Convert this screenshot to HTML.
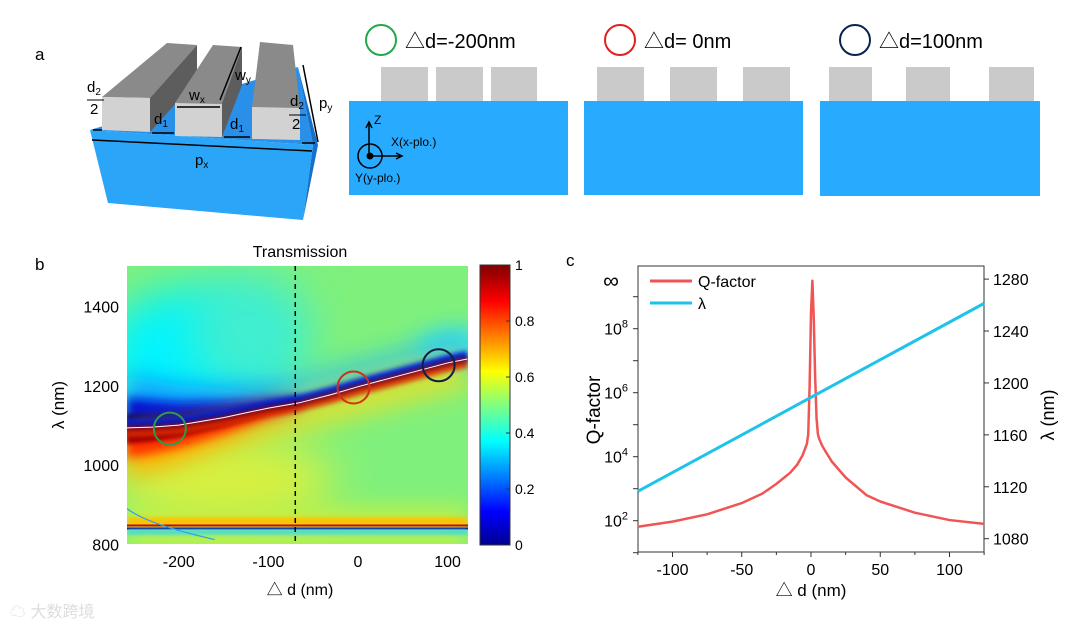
<!DOCTYPE html>
<html><head><meta charset="utf-8"><style>
body{margin:0;background:#fff;width:1080px;height:630px;overflow:hidden;font-family:"Liberation Sans","Noto Sans CJK SC",sans-serif}
svg{position:absolute;left:0;top:0}
text{font-family:"Liberation Sans","Noto Sans CJK SC",sans-serif}
</style></head><body>
<svg id="s" width="1080" height="630" viewBox="0 0 1080 630">
<defs>
 <linearGradient id="jet" x1="0" y1="1" x2="0" y2="0">
  <stop offset="0" stop-color="#00008f"/><stop offset="0.12" stop-color="#0000ff"/><stop offset="0.37" stop-color="#00ffff"/>
  <stop offset="0.5" stop-color="#80ff80"/><stop offset="0.62" stop-color="#ffff00"/><stop offset="0.87" stop-color="#ff0000"/><stop offset="1" stop-color="#800000"/>
 </linearGradient>
 <filter id="b6" filterUnits="userSpaceOnUse" x="0" y="0" width="1080" height="630"><feGaussianBlur stdDeviation="5"/></filter>
 <filter id="b12" filterUnits="userSpaceOnUse" x="0" y="0" width="1080" height="630"><feGaussianBlur stdDeviation="12"/></filter>
 <filter id="b20" filterUnits="userSpaceOnUse" x="0" y="0" width="1080" height="630"><feGaussianBlur stdDeviation="22"/></filter>
 <filter id="b3" filterUnits="userSpaceOnUse" x="0" y="0" width="1080" height="630"><feGaussianBlur stdDeviation="2"/></filter>
 <clipPath id="hclip"><rect x="127" y="266" width="341" height="278"/></clipPath>
</defs>

<!-- Panel a -->
<g>
<text x="35" y="60" font-size="17">a</text>
<g>
 <polygon points="90,130 298,67 313,145" fill="#2a8fe8"/>
 <polygon points="298,67 318,145 303,220 313,145" fill="#1670c8"/>
 <polygon points="90,130 313,145 303,220 108,203" fill="#2aa5f8"/>
 <polygon points="102,97 167,43 197,45 150,98" fill="#8a8a8a"/>
 <polygon points="150,98 197,45 197,80 150,132" fill="#5d5d5d"/>
 <polygon points="102,97 150,98 150,132 102,130" fill="#d2d2d2"/>
 <polygon points="175,103 213,45 242,47 222,104" fill="#8a8a8a"/>
 <polygon points="222,104 242,47 242,85 222,137" fill="#5d5d5d"/>
 <polygon points="175,103 222,104 222,137 175,136" fill="#d2d2d2"/>
 <polygon points="252,107 260,42 293,45 300,108" fill="#8a8a8a"/>
 <polygon points="252,107 300,108 300,140 252,139" fill="#d2d2d2"/>
 <g stroke="#000" stroke-width="1.5">
  <line x1="92" y1="140" x2="312" y2="151"/><line x1="93" y1="130" x2="102" y2="130"/>
  <line x1="152" y1="133" x2="174" y2="133"/><line x1="224" y1="137" x2="250" y2="137"/>
  <line x1="177" y1="107" x2="220" y2="107"/><line x1="220" y1="100" x2="241" y2="47"/>
  <line x1="303" y1="65" x2="318" y2="142"/><line x1="302" y1="143" x2="315" y2="143"/>
 </g>
 <g font-size="15" fill="#000">
  <text x="87" y="92">d<tspan font-size="10" dy="3">2</tspan></text><line x1="87" y1="100" x2="104" y2="100" stroke="#000"/><text x="90" y="114">2</text>
  <text x="154" y="124">d<tspan font-size="10" dy="3">1</tspan></text>
  <text x="189" y="100">w<tspan font-size="10" dy="3">x</tspan></text>
  <text x="235" y="80">w<tspan font-size="10" dy="3">y</tspan></text>
  <text x="230" y="129">d<tspan font-size="10" dy="3">1</tspan></text>
  <text x="290" y="106">d<tspan font-size="10" dy="3">2</tspan></text><line x1="289" y1="115" x2="306" y2="115" stroke="#000"/><text x="292" y="129">2</text>
  <text x="319" y="108">p<tspan font-size="10" dy="3">y</tspan></text>
  <text x="195" y="165">p<tspan font-size="10" dy="3">x</tspan></text>
 </g>
</g>
<g>
 <circle cx="381" cy="40" r="15" fill="none" stroke="#22a84a" stroke-width="2"/>
 <text x="405" y="48" font-size="20">△d=-200nm</text>
 <rect x="349" y="101" width="219" height="94" fill="#28abff"/>
 <rect x="381" y="67" width="47" height="34" fill="#cacaca"/><rect x="436" y="67" width="47" height="34" fill="#cacaca"/><rect x="491" y="67" width="46" height="34" fill="#cacaca"/>
 <g stroke="#000" stroke-width="1.5" fill="none">
  <line x1="369" y1="156" x2="369" y2="124"/><polyline points="366,128 369,122 372,128"/>
  <line x1="369" y1="156" x2="400" y2="156"/><polyline points="396,153 402,156 396,159"/>
  <circle cx="370" cy="156" r="12"/></g>
 <circle cx="370" cy="156" r="3.5" fill="#000"/>
 <text x="374" y="124" font-size="12">Z</text><text x="391" y="146" font-size="12">X(x-plo.)</text><text x="355" y="182" font-size="12">Y(y-plo.)</text>
</g>
<g>
 <circle cx="620" cy="40" r="15" fill="none" stroke="#e02020" stroke-width="2"/>
 <text x="644" y="48" font-size="20">△d= 0nm</text>
 <rect x="584" y="101" width="219" height="94" fill="#28abff"/>
 <rect x="597" y="67" width="47" height="34" fill="#cacaca"/><rect x="670" y="67" width="47" height="34" fill="#cacaca"/><rect x="743" y="67" width="47" height="34" fill="#cacaca"/>
</g>
<g>
 <circle cx="855" cy="40" r="15" fill="none" stroke="#0e2050" stroke-width="2"/>
 <text x="879" y="48" font-size="20">△d=100nm</text>
 <rect x="820" y="101" width="220" height="95" fill="#28abff"/>
 <rect x="829" y="67" width="43" height="34" fill="#cacaca"/><rect x="906" y="67" width="44" height="34" fill="#cacaca"/><rect x="989" y="67" width="45" height="34" fill="#cacaca"/>
</g>
</g>

<!-- Panel b -->
<g id="pb">
<text x="35" y="270" font-size="17">b</text>
<text x="300" y="257" font-size="16" text-anchor="middle">Transmission</text>
<g id="heat" clip-path="url(#hclip)"></g>
<rect x="480" y="265" width="30" height="280" fill="url(#jet)" stroke="#333"/>
<g id="cbt"></g><g id="bax"></g>
<text x="300" y="595" font-size="16" text-anchor="middle">△ d (nm)</text>
<text transform="translate(64,405) rotate(-90)" font-size="17" text-anchor="middle">λ (nm)</text>
</g>

<!-- Panel c -->
<g id="pc">
<text x="566" y="266" font-size="17">c</text>
<rect x="638" y="266" width="346" height="286" fill="none" stroke="#333" stroke-width="1"/>
<g id="cax"></g><g id="clines"></g>
<text x="611" y="288" font-size="22" text-anchor="middle">∞</text>
<line x1="650" y1="281" x2="692" y2="281" stroke="#f05555" stroke-width="3"/>
<text x="698" y="287" font-size="16">Q-factor</text>
<line x1="650" y1="303" x2="692" y2="303" stroke="#1ec3ea" stroke-width="3"/>
<text x="698" y="309" font-size="16">λ</text>
<text x="811" y="596" font-size="17" text-anchor="middle">△ d (nm)</text>
<text transform="translate(600,410) rotate(-90)" font-size="19" text-anchor="middle">Q-factor</text>
<text transform="translate(1054,415) rotate(-90)" font-size="18" text-anchor="middle">λ (nm)</text>
</g>
<text x="10" y="617" font-size="16" fill="#ddd">☁ 大数跨境</text>
</svg>
<script>
const NS="http://www.w3.org/2000/svg";
function mk(p,t,a){const e=document.createElementNS(NS,t);for(const k in a)e.setAttribute(k,a[k]);p.appendChild(e);return e;}
// ---- Panel b data ----
const resDd=[-258,-230,-200,-150,-100,-66,-30,0,50,100,122];
const resLam=[1094,1096,1101,1120,1144,1157,1178,1198,1228,1258,1268];
const mode2Lam=[845];
const bxTicks=[-200,-100,0,100];
const byTicks=[800,1000,1200,1400];
const cbTicks=[0,0.2,0.4,0.6,0.8,1];
const dashDd=[-70];
const bx=d=>358+d*0.896, by=l=>385.9-(l-1200)*0.396;
const heat=document.getElementById('heat');
mk(heat,'rect',{x:127,y:266,width:341,height:278,fill:'#80f07c'});
mk(heat,'ellipse',{cx:bx(-190),cy:by(1270),rx:85,ry:70,fill:'#00f4ff',filter:'url(#b20)'});
mk(heat,'ellipse',{cx:bx(-120),cy:by(1330),rx:60,ry:60,fill:'#40eed0',filter:'url(#b20)'});
mk(heat,'ellipse',{cx:bx(110),cy:by(1295),rx:40,ry:18,fill:'#30e0f0',filter:'url(#b12)'});
mk(heat,'ellipse',{cx:bx(-150),cy:by(960),rx:110,ry:45,fill:'#d8f040',filter:'url(#b20)'});
mk(heat,'rect',{x:127,y:by(890),width:341,height:by(800)-by(890),fill:'#c8f040',filter:'url(#b12)'});
function curve(off){return resDd.map((d,i)=>(i?'L':'M')+bx(d)+','+by(resLam[i]+off)).join(' ');}
function band(off,col,w,f,op){const p=mk(heat,'path',{d:curve(off),stroke:col,'stroke-width':w,fill:'none',filter:f,opacity:op});}
// wedge shapes hugging the resonance on the left
function wedge(sign,maxOff,col,f){
 const idx=resDd.map((d,i)=>i).filter(i=>resDd[i]<=-40);
 const top=idx.map(i=>bx(resDd[i])+','+by(resLam[i]+sign*2));
 const bot=idx.slice().reverse().map(i=>{const t=(resDd[i]+258)/218;return bx(resDd[i])+','+by(resLam[i]+sign*(maxOff*(1-t)+6));});
 const p=mk(heat,'polygon',{points:top.concat(bot).join(' '),fill:col,filter:f});
 }
band(30,'#20c0f8',26,'url(#b12)',0.8);
band(-30,'#f0e020',34,'url(#b12)',0.8);
wedge(1,130,'#10a0ff','url(#b12)');
wedge(1,70,'#0010d0','url(#b6)');
wedge(1,30,'#000070','url(#b3)');
wedge(-1,120,'#ffb000','url(#b12)');
wedge(-1,70,'#ff3000','url(#b6)');
wedge(-1,35,'#a00000','url(#b3)');
band(10,'#0020e0',9,'url(#b3)',0.9);
band(-10,'#e03000',10,'url(#b3)',0.85);
band(3,'#000080',4,'url(#b3)',0.8);
band(-4,'#a00000',4,'url(#b3)',0.8);
mk(heat,'path',{d:curve(0),stroke:'#fff','stroke-width':1,fill:'none'});
mode2Lam.forEach(l=>{
 mk(heat,'rect',{x:127,y:by(l)-9,width:341,height:8,fill:'#ffc000',filter:'url(#b3)'});
 mk(heat,'rect',{x:127,y:by(l)-2,width:341,height:2,fill:'#d00000'});
 mk(heat,'rect',{x:127,y:by(l)+1,width:341,height:2,fill:'#000080'});
 mk(heat,'rect',{x:127,y:by(l)+3,width:341,height:5,fill:'#30d8f0',filter:'url(#b3)'});
});
mk(heat,'path',{d:`M127,${by(890)} Q${bx(-235)},${by(850)} ${bx(-160)},${by(812)}`,stroke:'#30a0f0','stroke-width':1.2,fill:'none'});
const circDd=[-210,-5,90],circLam=[1092,1196,1252],circCol=['#2d9a50','#d03018','#102040'];
const pb=document.getElementById('pb');
circDd.forEach((d,i)=>{const c=mk(pb,'circle',{cx:bx(d),cy:by(circLam[i]),r:16,fill:'none',stroke:circCol[i],'stroke-width':2});
});
dashDd.forEach(d=>{const l=mk(pb,'line',{x1:bx(d),x2:bx(d),y1:266,y2:544,stroke:'#000','stroke-width':1.5,'stroke-dasharray':'5,4'});
});
const bax=document.getElementById('bax');
bxTicks.forEach(v=>{const t=mk(bax,'text',{x:bx(v),y:567,'font-size':16,'text-anchor':'middle'});t.textContent=v;
});
byTicks.forEach(v=>{const t=mk(bax,'text',{x:119,y:by(v)+6,'font-size':16,'text-anchor':'end'});t.textContent=v;
});
const cbt=document.getElementById('cbt');
cbTicks.forEach(v=>{const y=545-v*280;mk(cbt,'line',{x1:506,x2:510,y1:y,y2:y,stroke:'#333'});
const t=mk(cbt,'text',{x:515,y:y+5,'font-size':14});t.textContent=v;
});
// ---- Panel c data ----
const qDd=[-125,-100,-75,-50,-35,-25,-15,-10,-6,-3,-2,-1,0,1,2,3,4,5,6,8,10,15,25,40,50,75,100,125];
const qLog=[1.81,1.97,2.2,2.55,2.85,3.15,3.5,3.75,4.05,4.4,4.7,6.2,8.5,9.5,8.3,6.5,5.2,4.7,4.55,4.35,4.2,3.85,3.35,2.8,2.6,2.25,2.02,1.9];
const lamDd=[-125,125];
const lamVal=[1116.5,1261.3];
const cxTicks=[-100,-50,0,50,100];
const qTicks=[2,4,6,8];
const lamTicks=[1080,1120,1160,1200,1240,1280];
const cx=d=>811+d*1.385, cyq=l=>520.7-(l-2)*32, cyl=l=>538.7-(l-1080)*1.298;
const cax=document.getElementById('cax');
for(let v=-125;v<=125;v+=25){mk(cax,'line',{x1:cx(v),x2:cx(v),y1:552,y2:cxTicks.includes(v)?557:555,stroke:'#333'});}
cxTicks.forEach(v=>{const t=mk(cax,'text',{x:cx(v),y:575,'font-size':16,'text-anchor':'middle'});t.textContent=v;
});
for(let v=1;v<=9;v++){mk(cax,'line',{x1:633,x2:638,y1:cyq(v),y2:cyq(v),stroke:'#333'});}
qTicks.forEach(v=>{const t=mk(cax,'text',{x:628,y:cyq(v)+6,'font-size':16,'text-anchor':'end'});
t.innerHTML='10<tspan font-size="11" dy="-7">'+v+'</tspan>';
});
lamTicks.forEach(v=>{mk(cax,'line',{x1:984,x2:989,y1:cyl(v),y2:cyl(v),stroke:'#333'});
const t=mk(cax,'text',{x:993,y:cyl(v)+6,'font-size':16});t.textContent=v;
});
const cl=document.getElementById('clines');
const ql=mk(cl,'path',{d:qDd.map((d,i)=>(i?'L':'M')+cx(d)+','+cyq(qLog[i])).join(' '),stroke:'#f05555','stroke-width':2.5,fill:'none','stroke-linejoin':'round'});

const ll=mk(cl,'path',{d:lamDd.map((d,i)=>(i?'L':'M')+cx(d)+','+cyl(lamVal[i])).join(' '),stroke:'#1ec3ea','stroke-width':3,fill:'none'});

</script>
</body></html>
